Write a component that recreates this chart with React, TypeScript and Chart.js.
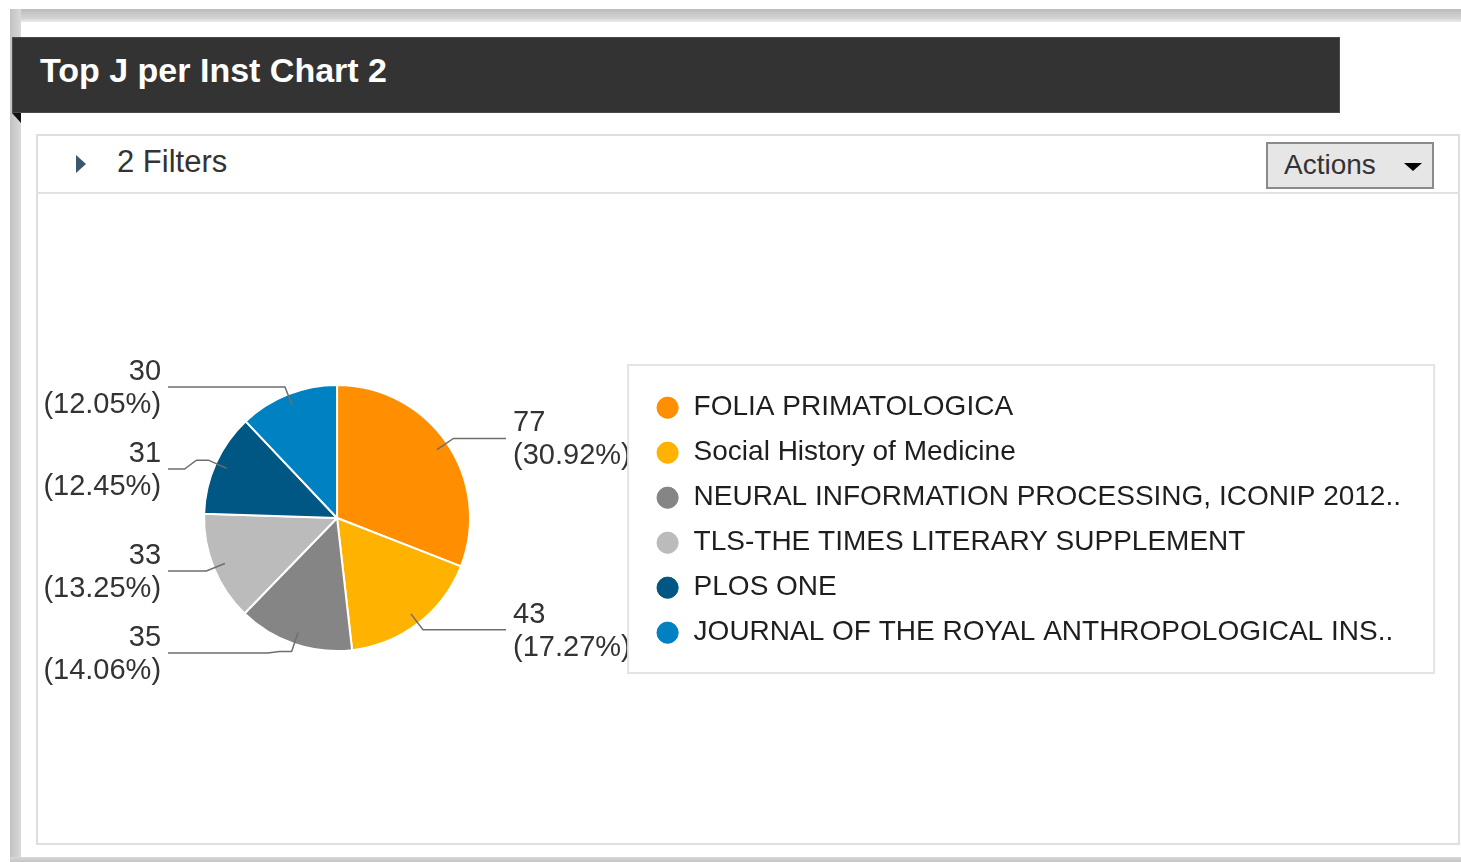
import React, { useEffect, useRef } from 'react';
import { Chart, registerables } from 'chart.js';

Chart.register(...registerables);

const categories = [
  'FOLIA PRIMATOLOGICA',
  'Social History of Medicine',
  'NEURAL INFORMATION PROCESSING, ICONIP 2012..',
  'TLS-THE TIMES LITERARY SUPPLEMENT',
  'PLOS ONE',
  'JOURNAL OF THE ROYAL ANTHROPOLOGICAL INS..',
];
const values = [77, 43, 35, 33, 31, 30];
const colors = ['#FF8F00', '#FFB300', '#858585', '#BBBBBB', '#005783', '#0082C2'];

const FONT = '"Liberation Sans", Arial, Helvetica, sans-serif';

const pieLabelsPlugin = {
  id: 'pieLabels',
  afterDatasetsDraw(chart: any) {
    const meta = chart.getDatasetMeta(0);
    const data = chart.data.datasets[0].data as number[];
    const total = data.reduce((a: number, b: number) => a + b, 0);
    const ctx = chart.ctx as CanvasRenderingContext2D;
    const items = meta.data.map((arc: any, i: number) => {
      const p = arc.getProps(['x', 'y', 'startAngle', 'endAngle', 'outerRadius'], true);
      const mid = (p.startAngle + p.endAngle) / 2;
      const r = p.outerRadius;
      const c = Math.cos(mid);
      const s = Math.sin(mid);
      return {
        i,
        cx: p.x,
        cy: p.y,
        right: c >= 0,
        sx: p.x + c * r * 0.91,
        sy: p.y + s * r * 0.91,
        ex: p.x + c * r * 1.06,
        ey: p.y + s * r * 1.06,
        ly: p.y + s * r * 1.06,
      };
    });
    const MIN = 82;
    [true, false].forEach((side) => {
      const list = items.filter((it: any) => it.right === side).sort((a: any, b: any) => a.ey - b.ey);
      for (let k = 1; k < list.length; k++) {
        if (list[k].ly - list[k - 1].ly < MIN) list[k].ly = list[k - 1].ly + MIN;
      }
    });
    ctx.save();
    items.forEach((it: any) => {
      const dir = it.right ? 1 : -1;
      const endX = it.cx + dir * 169;
      ctx.beginPath();
      ctx.moveTo(it.sx, it.sy);
      ctx.lineTo(it.ex, it.ey);
      if (Math.abs(it.ly - it.ey) > 0.5) {
        ctx.lineTo(it.ex + dir * 12, it.ey);
        ctx.lineTo(it.ex + dir * 24, it.ly);
      }
      ctx.lineTo(endX, it.ly);
      ctx.strokeStyle = '#6e6e6e';
      ctx.lineWidth = 1.5;
      ctx.stroke();

      const v = data[it.i];
      const pct = ((v / total) * 100).toFixed(2);
      ctx.font = `29px ${FONT}`;
      ctx.fillStyle = '#333333';
      ctx.textBaseline = 'middle';
      ctx.textAlign = it.right ? 'left' : 'right';
      const tx = it.cx + dir * 176;
      ctx.fillText(String(v), tx, it.ly - 15);
      ctx.fillText(`(${pct}%)`, tx, it.ly + 18);
    });
    ctx.restore();
  },
};

const legendBoxPlugin = {
  id: 'legendBox',
  afterDraw(chart: any) {
    const lg = chart.legend;
    if (!lg) return;
    const ctx = chart.ctx as CanvasRenderingContext2D;
    const midY = (lg.top + lg.bottom) / 2;
    const left = lg.left - 10.5;
    const top = midY - 153;
    ctx.save();
    ctx.strokeStyle = '#e4e4e4';
    ctx.lineWidth = 2;
    ctx.strokeRect(left, top, 806, 308);
    ctx.restore();
  },
};

export default function App() {
  const canvasRef = useRef<HTMLCanvasElement | null>(null);

  useEffect(() => {
    if (!canvasRef.current) return;
    const chart = new Chart(canvasRef.current, {
      type: 'pie',
      data: {
        labels: categories,
        datasets: [
          {
            data: values,
            backgroundColor: colors,
            borderColor: '#ffffff',
            borderWidth: 2,
            radius: 133,
          } as any,
        ],
      },
      options: {
        animation: false,
        responsive: false,
        events: [],
        layout: { padding: { left: 10.5, right: 48, top: 0, bottom: 0 } },
        plugins: {
          tooltip: { enabled: false },
          title: { display: false },
          legend: {
            display: true,
            position: 'right',
            align: 'center',
            maxWidth: 1000,
            title: { display: true, text: ' ', font: { size: 2 }, padding: 1 },
            labels: {
              usePointStyle: true,
              pointStyle: 'circle',
              boxWidth: 24,
              boxHeight: 15,
              padding: 17,
              color: '#1e1e1e',
              font: { family: FONT, size: 28 },
              generateLabels: (chart: any) => {
                const base = (Chart as any).overrides.pie.plugins.legend.labels.generateLabels(chart);
                return base.map((l: any) => ({ ...l, strokeStyle: l.fillStyle, lineWidth: 1 }));
              },
            },
          },
        },
      } as any,
      plugins: [pieLabelsPlugin, legendBoxPlugin],
    });
    return () => chart.destroy();
  }, []);

  return (
    <div
      style={{
        position: 'absolute',
        left: 0,
        top: 0,
        width: 1461,
        height: 862,
        background: '#ffffff',
        overflow: 'hidden',
        fontFamily: FONT,
      }}
    >
      <div style={{ position: 'absolute', left: 10, top: 9, width: 1451, height: 13, background: 'linear-gradient(#bcbcbc, #d2d2d2 70%, #ebebeb)' }} />
      <div style={{ position: 'absolute', left: 10, top: 9, width: 11, height: 853, background: 'linear-gradient(to right, #c2c2c2, #d9d9d9)' }} />
      <div style={{ position: 'absolute', left: 10, top: 857, width: 1451, height: 5, background: 'linear-gradient(#d8d8d8, #c4c4c4)' }} />

      <div
        style={{
          position: 'absolute',
          left: 12,
          top: 37,
          width: 1328,
          height: 76,
          background: '#333333',
          boxSizing: 'border-box',
          border: '1px solid #4a4a4a',
        }}
      >
        <span
          style={{
            position: 'absolute',
            left: 27,
            top: 16,
            color: '#ffffff',
            fontWeight: 'bold',
            fontSize: 34,
            lineHeight: '33px',
            whiteSpace: 'nowrap',
          }}
        >
          Top J per Inst Chart 2
        </span>
      </div>
      <div
        style={{
          position: 'absolute',
          left: 12,
          top: 113,
          width: 0,
          height: 0,
          borderTop: '10px solid #111111',
          borderLeft: '9px solid transparent',
        }}
      />

      <div
        style={{
          position: 'absolute',
          left: 36,
          top: 134,
          width: 1424,
          height: 711,
          boxSizing: 'border-box',
          border: '2px solid #dedede',
        }}
      />
      <div style={{ position: 'absolute', left: 37, top: 192, width: 1422, height: 2, background: '#e2e2e2' }} />

      <div
        style={{
          position: 'absolute',
          left: 76,
          top: 155,
          width: 0,
          height: 0,
          borderLeft: '10px solid #3b5670',
          borderTop: '9px solid transparent',
          borderBottom: '9px solid transparent',
        }}
      />
      <span
        style={{
          position: 'absolute',
          left: 117,
          top: 146,
          fontSize: 31,
          lineHeight: '31px',
          color: '#333333',
          whiteSpace: 'nowrap',
        }}
      >
        2 Filters
      </span>

      <div
        style={{
          position: 'absolute',
          left: 1266,
          top: 142,
          width: 168,
          height: 47,
          boxSizing: 'border-box',
          background: '#e6e6e6',
          border: '2px solid #8a8a8a',
        }}
      >
        <span
          style={{
            position: 'absolute',
            left: 16,
            top: 7,
            fontSize: 28,
            lineHeight: '28px',
            color: '#333333',
            whiteSpace: 'nowrap',
          }}
        >
          Actions
        </span>
        <div
          style={{
            position: 'absolute',
            left: 136,
            top: 19,
            width: 0,
            height: 0,
            borderTop: '8px solid #000000',
            borderLeft: '9px solid transparent',
            borderRight: '9px solid transparent',
          }}
        />
      </div>

      <canvas
        ref={canvasRef}
        width={1434}
        height={646}
        style={{ position: 'absolute', left: 25, top: 195, width: 1434, height: 646 }}
      />
    </div>
  );
}
